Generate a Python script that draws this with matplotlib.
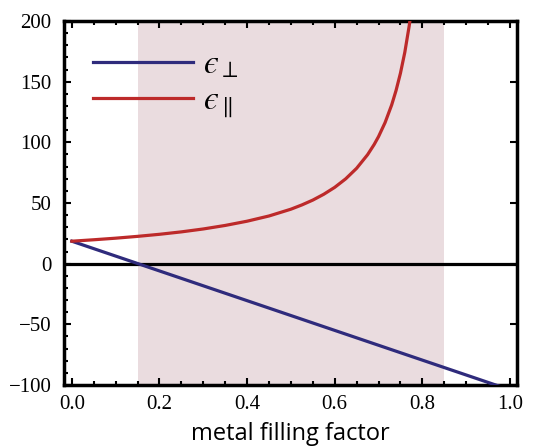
import matplotlib
matplotlib.use('Agg')
import matplotlib.pyplot as plt
from matplotlib.ticker import MultipleLocator

# values
perp_x = [0.0, 1.0]
perp_y = [18.5, -104.0]

par_x = [0.0, 0.05, 0.10, 0.15, 0.20, 0.25, 0.30, 0.35, 0.40, 0.45, 0.50, 0.525,
         0.55, 0.575, 0.60, 0.625, 0.65, 0.675, 0.69, 0.70, 0.715, 0.73, 0.74,
         0.75, 0.76, 0.77, 0.775]
par_y = [18.5, 19.7, 21.0, 22.5, 24.2, 26.2, 28.6, 31.5, 35.0, 39.3, 44.9, 48.4,
         52.4, 57.2, 62.9, 69.9, 78.6, 89.8, 98.2, 104.7, 116.3, 130.8, 142.7,
         156.9, 174.2, 195.9, 208.9]

band = (0.15, 0.85)
labels = ['$\u03f5_{\\perp}$', '$\u03f5_{\\parallel}$']

blue = '#2f2b7c'
red = '#bd2a2a'
shade = '#eadcdf'

plt.rcParams['mathtext.fontset'] = 'stix'

fig = plt.figure(figsize=(5.39, 4.46), dpi=100)
ax = fig.add_axes([0.1187, 0.1368, 0.8404, 0.8161])

ax.axvspan(band[0], band[1], color=shade, lw=0, zorder=0)
ax.axhline(0, color='black', lw=2.3, zorder=2)
l1, = ax.plot(perp_x, perp_y, color=blue, lw=2.3, zorder=3, label=labels[0])
l2, = ax.plot(par_x, par_y, color=red, lw=2.3, zorder=3, label=labels[1])

ax.set_xlim(-0.018, 1.016)
ax.set_ylim(-100, 200)

ax.xaxis.set_minor_locator(MultipleLocator(0.05))
ax.yaxis.set_minor_locator(MultipleLocator(10))
ax.set_xticks([0, 0.2, 0.4, 0.6, 0.8, 1.0])
ax.set_xticklabels(['0.0', '0.2', '0.4', '0.6', '0.8', '1.0'])
ax.set_yticks([-100, -50, 0, 50, 100, 150, 200])
ax.set_yticklabels(['\u2212100', '\u221250', '0', '50', '100', '150', '200'])

ax.tick_params(which='both', direction='in', top=True, right=True, width=1.5)
ax.tick_params(which='major', length=5)
ax.tick_params(which='minor', length=3)
ax.tick_params(axis='y', which='minor', right=False)
for lab in ax.get_xticklabels() + ax.get_yticklabels():
    lab.set_family('Liberation Serif')
    lab.set_fontsize(15)
ax.tick_params(axis='x', pad=7)
ax.tick_params(axis='y', pad=9)

for s in ax.spines.values():
    s.set_linewidth(2.5)

ax.set_xlabel('metal filling factor', family='Open Sans', fontsize=17, labelpad=6)

leg = ax.legend(handles=[l1, l2], loc='upper left', bbox_to_anchor=(0.064, 0.928),
                frameon=False, fontsize=24, handlelength=3.0, handletextpad=0.3,
                labelspacing=0.1, borderpad=0, borderaxespad=0)

fig.savefig('out.png', dpi=100)
